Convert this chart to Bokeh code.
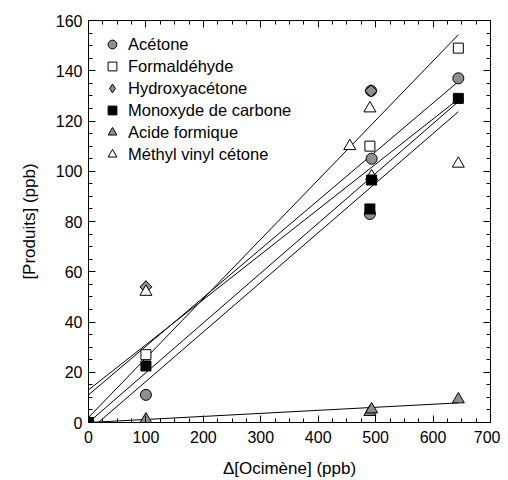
import math
from bokeh.plotting import figure
from bokeh.models import LinearAxis, FixedTicker, Range1d, Legend, LegendItem
from bokeh.embed import file_html
from bokeh.resources import INLINE

# ---- data ----
acetone_x = [0, 100, 490, 493, 492, 644]
acetone_y = [0, 11, 83, 105, 132, 137]
formal_x = [0, 100, 490, 644]
formal_y = [0, 27, 110, 149]
hydroxy_x = [0, 100, 492]
hydroxy_y = [0, 54, 132]
mvk_x = [0, 100, 455, 490, 493, 644]
mvk_y = [0, 52, 110, 125, 98, 103]
formic_x = [0, 100, 490, 493, 644]
formic_y = [0, 1.2, 4.2, 5.2, 9.2]
co_x = [0, 100, 490, 493, 644]
co_y = [0, 22.5, 85, 96.5, 129]

# regression lines, read at x = 0 and x = 644
fit_x = [0, 644]
fit_start = [2, 11, 13, 0, -3.4, 0]
fit_end = [154.3, 135.7, 128.7, 127.7, 123.7, 7.8]

x_ticks = [0, 100, 200, 300, 400, 500, 600, 700]
y_ticks = [0, 20, 40, 60, 80, 100, 120, 140, 160]
x_minor = list(range(0, 701, 25))
y_minor = list(range(0, 161, 5))

FONT = "Liberation Sans"
GREY = "#8f8f8f"

p = figure(frame_width=402, frame_height=402, output_backend="svg",
           toolbar_location=None, x_range=Range1d(0, 700), y_range=Range1d(0, 160),
           min_border_left=88, min_border_top=20, min_border_right=10, min_border_bottom=10)
p.grid.visible = False
p.outline_line_color = None
p.background_fill_color = "white"
p.border_fill_color = "white"

xt = FixedTicker(ticks=x_ticks, minor_ticks=x_minor)
yt = FixedTicker(ticks=y_ticks, minor_ticks=y_minor)


def style_axis(ax, ticker):
    ax.ticker = ticker
    ax.axis_line_color = "black"
    ax.axis_line_width = 1
    ax.major_tick_in = 7
    ax.major_tick_out = 0
    ax.minor_tick_in = 4
    ax.minor_tick_out = 0
    ax.major_tick_line_color = "black"
    ax.minor_tick_line_color = "black"
    ax.major_label_text_font = FONT
    ax.major_label_text_font_size = "16px"
    ax.major_label_text_color = "black"
    ax.axis_label_text_font = FONT
    ax.axis_label_text_font_size = "17px"
    ax.axis_label_text_font_style = "normal"
    ax.axis_label_text_color = "black"


style_axis(p.xaxis[0], xt)
style_axis(p.yaxis[0], yt)
p.xaxis[0].axis_label = "Δ[Ocimène] (ppb)"
p.yaxis[0].axis_label = "[Produits] (ppb)"
p.xaxis[0].major_label_standoff = 8
p.xaxis[0].axis_label_standoff = 13
p.yaxis[0].major_label_standoff = 6
p.yaxis[0].axis_label_standoff = 14

top = LinearAxis()
right = LinearAxis()
style_axis(top, xt)
style_axis(right, yt)
top.major_label_overrides = {t: "" for t in x_ticks}
right.major_label_overrides = {t: "" for t in y_ticks}
top.major_label_standoff = 0
right.major_label_standoff = 0
p.add_layout(top, "above")
p.add_layout(right, "right")

# fit lines
p.multi_line(xs=[fit_x] * len(fit_start),
             ys=[[s, e] for s, e in zip(fit_start, fit_end)],
             line_color="black", line_width=1)

r_ac = p.scatter(acetone_x, acetone_y, marker="circle", size=11,
                 fill_color=GREY, line_color="black", line_width=1)
r_fo = p.scatter(formal_x, formal_y, marker="square", size=10,
                 fill_color="white", line_color="black", line_width=1)
# diamond marker (used by the legend), covered on the plot by a regular rotated square
r_hy_leg = p.scatter(hydroxy_x, hydroxy_y, marker="diamond", size=12,
                     fill_color=GREY, line_color="black", line_width=1)
r_hy = p.scatter(hydroxy_x, hydroxy_y, marker="square", size=8.5, angle=math.pi / 4,
                 fill_color=GREY, line_color="black", line_width=1)
r_mv = p.scatter(mvk_x, mvk_y, marker="triangle", size=12,
                 fill_color="white", line_color="black", line_width=1)
r_fa = p.scatter(formic_x, formic_y, marker="triangle", size=12,
                 fill_color=GREY, line_color="black", line_width=1)
r_co = p.scatter(co_x, co_y, marker="square", size=10,
                 fill_color="black", line_color="black", line_width=1)

legend = Legend(items=[
    LegendItem(label="Acétone", renderers=[r_ac]),
    LegendItem(label="Formaldéhyde", renderers=[r_fo]),
    LegendItem(label="Hydroxyacétone", renderers=[r_hy_leg]),
    LegendItem(label="Monoxyde de carbone", renderers=[r_co]),
    LegendItem(label="Acide formique", renderers=[r_fa]),
    LegendItem(label="Méthyl vinyl cétone", renderers=[r_mv]),
], location="top_left")
legend.margin = 13
legend.padding = 2
legend.spacing = 0
legend.glyph_width = 22
legend.glyph_height = 22
legend.label_height = 22
legend.label_standoff = 5
legend.label_text_font = FONT
legend.label_text_font_size = "16.5px"
legend.label_text_color = "black"
legend.border_line_color = None
legend.background_fill_alpha = 0
p.add_layout(legend)

open("out.html", "w").write(file_html(p, INLINE))
